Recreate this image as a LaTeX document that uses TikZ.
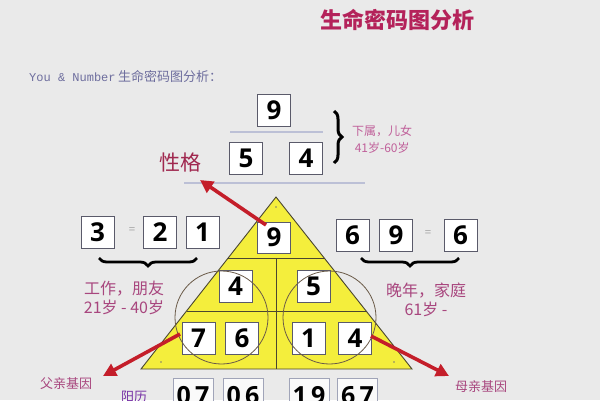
\documentclass[tikz,border=0pt]{standalone}
\usepackage{fontspec}
\setmainfont{Open Sans}
\newfontfamily\cjk{Noto Sans CJK SC}
\newfontfamily\monof{Liberation Mono}
\usetikzlibrary{arrows.meta,decorations.pathreplacing}
\definecolor{bgc}{HTML}{EAEAEA}
\definecolor{titlec}{HTML}{B4225A}
\definecolor{xgc}{HTML}{A0284F}
\definecolor{labc}{HTML}{A8467E}
\definecolor{pinkc}{HTML}{C0609A}
\definecolor{introc}{HTML}{6E6E9E}
\definecolor{sepc}{HTML}{BCC0D6}
\definecolor{yelc}{HTML}{F4EE3C}
\definecolor{triline}{HTML}{4A4630}
\definecolor{circc}{HTML}{6A5A48}
\definecolor{arrc}{HTML}{C41E2A}
\definecolor{boxc}{HTML}{5A5A6A}
\definecolor{boxlc}{HTML}{A0A4B8}
\tikzset{
  numbox/.style={draw=boxc, fill=white, line width=1pt, minimum width=33pt, minimum height=32pt, inner sep=0pt, font=\fontsize{26}{26}\selectfont\bfseries},
  datebox/.style={draw=boxlc, fill=white!96!gray, line width=0.8pt, minimum width=40pt, minimum height=34pt, inner sep=0pt, anchor=north, font=\fontsize{25}{25}\selectfont\bfseries, text depth=0pt},
  sepline/.style={draw=sepc, line width=1.2pt},
  tri/.style={draw=triline, line width=0.9pt},
  circ/.style={draw=circc, line width=0.8pt},
  redarrow/.style={draw=arrc, line width=3.6pt, -{Triangle[length=13pt,width=13pt]}},
  vbrace/.style={decorate, decoration={brace, amplitude=8pt}, line width=3pt, draw=black},
  hbrace/.style={decorate, decoration={brace, amplitude=8pt}, line width=2.8pt, draw=black},
  lab/.style={text=labc, font=\cjk\fontsize{16}{19}\selectfont, align=center, inner sep=1pt},
  labsm/.style={text=pinkc, font=\cjk\fontsize{12}{17}\selectfont, align=center, inner sep=1pt},
  gene/.style={text=labc, font=\cjk\fontsize{13}{15}\selectfont, inner sep=1pt},
  eqs/.style={text=gray!70, font=\fontsize{12}{12}\selectfont, inner sep=0pt},
  dotc/.style={fill=triline!70, radius=0.9pt}
}
\begin{document}
\begin{tikzpicture}[x=1pt,y=-1pt]
\useasboundingbox (0,0) rectangle (600,400);
\clip (0,0) rectangle (600,400);
\fill[bgc] (0,0) rectangle (600,400);

% title and intro
\node[text=titlec, font=\cjk\bfseries\fontsize{22}{22}\selectfont] (title) at (397,20) {生命密码图分析};
\node[anchor=west, text=introc, inner sep=0pt] (intro) at (29,76) {{\monof\fontsize{12}{12}\selectfont You \& Number} {\cjk\fontsize{13}{13}\selectfont 生命密码图分析：}};

% top small pyramid
\node[numbox] (t9) at (274,110) {9};
\node[numbox] (t5) at (246,158) {5};
\node[numbox] (t4) at (306,158) {4};
\coordinate (s1a) at (230,132); \coordinate (s1b) at (323,132);
\coordinate (s2a) at (184,183); \coordinate (s2b) at (365,183);
\draw[sepline] (s1a) -- (s1b);
\draw[sepline] (s2a) -- (s2b);
\coordinate (vb1) at (334,111); \coordinate (vb2) at (334,163);
\draw[vbrace] (vb1) -- (vb2);
\node[labsm, anchor=west] (xs) at (351,139) {下属，儿女\\41岁-60岁};

\node[text=xgc, font=\cjk\fontsize{21}{21}\selectfont] (xg) at (180,163) {性格};

% big triangle
\coordinate (ap) at (276,197);
\coordinate (bl) at (141,369);
\coordinate (br) at (412,369);
\coordinate (h1a) at (228.1,258); \coordinate (h1b) at (323.9,258);
\coordinate (h2a) at (186.5,311); \coordinate (h2b) at (365.5,311);
\coordinate (vt) at (276.5,258); \coordinate (vbt) at (276.5,369);
\filldraw[tri, fill=yelc] (ap) -- (bl) -- (br) -- cycle;
\draw[tri] (h1a) -- (h1b);
\draw[tri] (h2a) -- (h2b);
\draw[tri] (vt) -- (vbt);
\fill[dotc] (276,207) circle;
\fill[dotc] (161,362) circle;
\fill[dotc] (394,362) circle;

\node[numbox, minimum height=31pt] (b9) at (274,237.5) {9};
\node[numbox] (b4) at (235.5,286) {4};
\node[numbox] (b5) at (313.5,286) {5};
\node[numbox] (b7) at (198.5,338) {7};
\node[numbox] (b6) at (242,338) {6};
\node[numbox] (b1) at (308.5,338) {1};
\node[numbox] (b4r) at (355,338) {4};

\draw[circ] (221.5,317.5) circle[radius=46.5];
\draw[circ] (329.5,317.5) circle[radius=46.5];

% left group
\node[numbox] (l3) at (97.5,232) {3};
\node[eqs] (leq) at (132,231) {=};
\node[numbox] (l2) at (160,232) {2};
\node[numbox] (l1) at (202.5,232) {1};
\coordinate (lb1) at (197,258); \coordinate (lb2) at (99,258);
\draw[hbrace] (lb1) -- (lb2);
\node[lab] (lw) at (124,298) {工作，朋友\\21岁 - 40岁};

% right group
\node[numbox] (r6) at (352.5,235) {6};
\node[numbox] (r9) at (396,235) {9};
\node[eqs] (req) at (428,234) {=};
\node[numbox] (r6b) at (460.5,235) {6};
\coordinate (rb1) at (459,258); \coordinate (rb2) at (361,258);
\draw[hbrace] (rb1) -- (rb2);
\node[lab] (rw) at (426,300) {晚年，家庭\\61岁 -};

% arrows
\coordinate (a1s) at (266,225); \coordinate (a1e) at (200,180);
\coordinate (a2s) at (180,334); \coordinate (a2e) at (103,376);
\coordinate (a3s) at (371,336); \coordinate (a3e) at (449,376);
\draw[redarrow] (a1s) -- (a1e);
\draw[redarrow] (a2s) -- (a2e);
\draw[redarrow] (a3s) -- (a3e);
\node[gene] (fq) at (66,384) {父亲基因};
\node[gene] (mq) at (481,387) {母亲基因};

% bottom dates
\node[text=labc!70!blue, font=\cjk\fontsize{13}{13}\selectfont] (yl) at (134,397) {阳历};
\node[datebox] (d1) at (193,378) {0\,7};
\node[datebox] (d2) at (243,378) {0\,6};
\node[datebox] (d3) at (309,378) {1\,9};
\node[datebox] (d4) at (357.5,378) {6\,7};
\end{tikzpicture}
\end{document}
